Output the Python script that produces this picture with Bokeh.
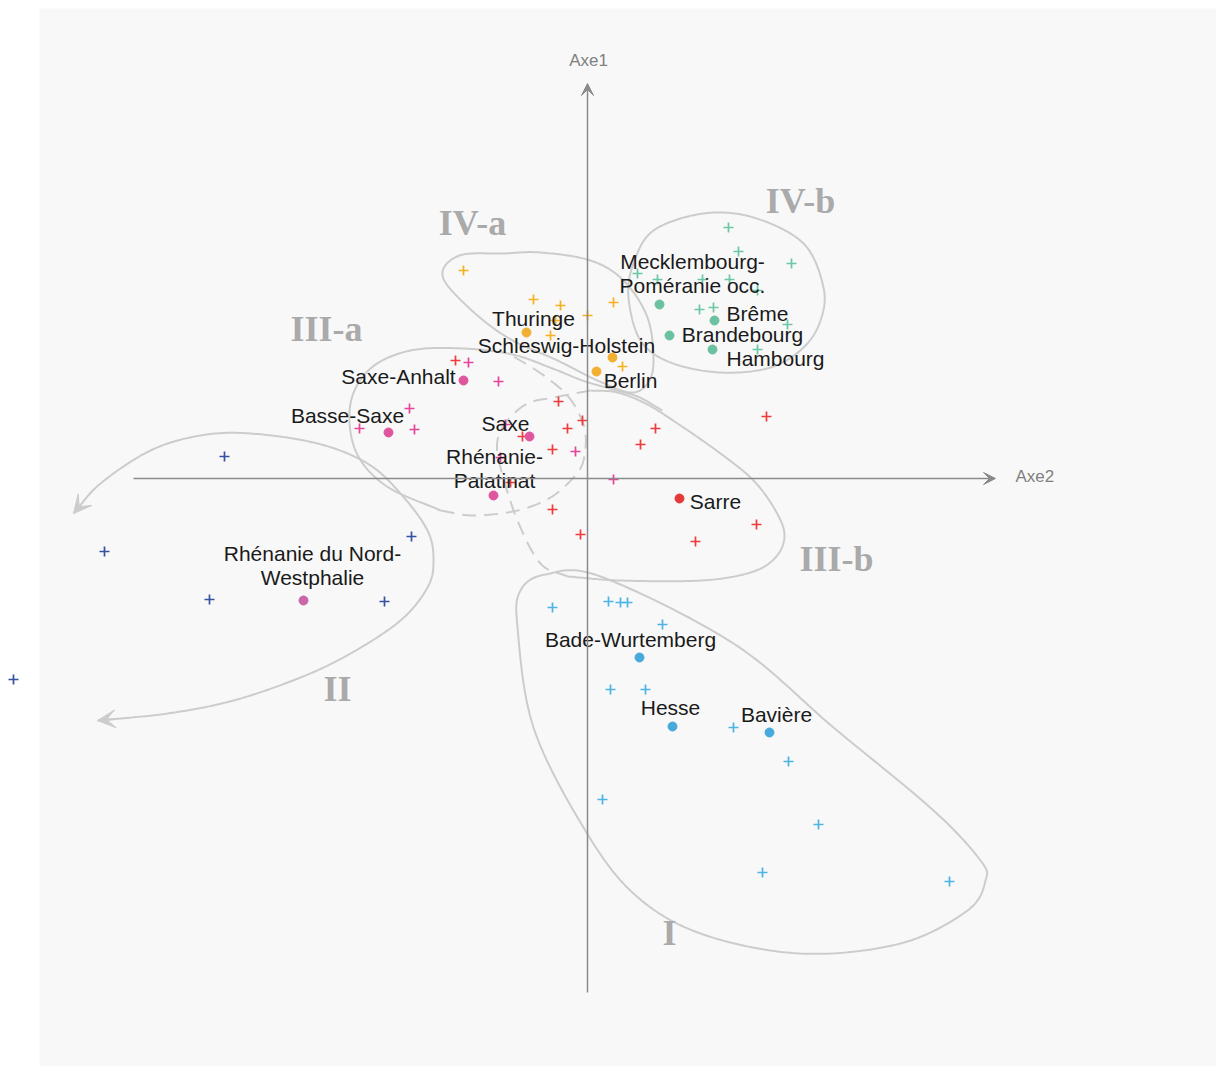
import numpy as np
from bokeh.plotting import figure
from bokeh.models import Range1d, BoxAnnotation, Arrow, VeeHead, ColumnDataSource, Label
from bokeh.core.properties import value
from bokeh.embed import file_html
from bokeh.resources import INLINE

# ---------------- data (axis units) ----------------
# group IV-a (orange)
iva_plus_x = [-1.24, -0.54, -0.27, 0.00, 0.26, -0.37, 0.35, -0.32]
iva_plus_y = [2.08, 1.79, 1.73, 1.63, 1.76, 1.43, 1.12, 1.58]
iva_names = ["Thuringe", "Schleswig-Holstein", "Berlin"]
iva_x = [-0.61, 0.25, 0.09]
iva_y = [1.46, 1.21, 1.07]

# group IV-b (teal)
ivb_plus_x = [1.41, 1.51, 2.04, 0.50, 0.70, 1.15, 1.42, 1.70, 1.12, 1.26, 2.00, 1.70]
ivb_plus_y = [2.51, 2.27, 2.15, 2.05, 1.99, 1.99, 1.99, 1.88, 1.69, 1.71, 1.54, 1.29]
ivb_names = ["Mecklembourg-\nPoméranie occ.", "Brême", "Brandebourg", "Hambourg"]
ivb_x = [0.72, 1.27, 0.82, 1.25]
ivb_y = [1.74, 1.58, 1.43, 1.29]

# group III-b (red)
iiib_plus_x = [-1.32, -0.29, -0.05, -0.20, -0.65, -0.35, -0.77, -0.35, -0.07, 1.79, 0.68, 0.53, 1.69, 1.08]
iiib_plus_y = [1.18, 0.77, 0.58, 0.50, 0.42, 0.29, -0.04, -0.31, -0.56, 0.62, 0.50, 0.34, -0.46, -0.63]
iiib_names = ["Sarre"]
iiib_x = [0.92]
iiib_y = [-0.20]

# group III-a (magenta)
iiia_plus_x = [-1.19, -0.89, -1.78, -2.28, -1.73, -0.12, 0.26, -0.82, -0.87]
iiia_plus_y = [1.16, 0.97, 0.70, 0.50, 0.49, 0.27, -0.01, 0.54, 0.21]
iiia_names = ["Saxe-Anhalt", "Basse-Saxe", "Saxe", "Rhénanie-\nPalatinat"]
iiia_x = [-1.24, -1.99, -0.58, -0.94]
iiia_y = [0.98, 0.46, 0.42, -0.17]

# group II (dark blue)
ii_plus_x = [-3.63, -4.83, -1.76, -3.78, -2.03, -5.74]
ii_plus_y = [0.22, -0.73, -0.58, -1.21, -1.23, -2.01]
ii_names = ["Rhénanie du Nord-\nWestphalie"]
ii_x = [-2.84]
ii_y = [-1.22]

# group I (light blue)
i_plus_x = [-0.35, 0.21, 0.33, 0.40, 0.75, 0.23, 0.58, 1.46, 2.01, 0.15, 2.31, 1.75, 3.62]
i_plus_y = [-1.29, -1.23, -1.24, -1.24, -1.46, -2.11, -2.11, -2.49, -2.83, -3.21, -3.46, -3.94, -4.03]
i_names = ["Bade-Wurtemberg", "Hesse", "Bavière"]
i_x = [0.52, 0.85, 1.82]
i_y = [-1.79, -2.48, -2.54]

group_labels = ["IV-a", "IV-b", "III-a", "III-b", "II", "I"]
group_lx = [-1.15, 2.13, -2.61, 2.49, -2.50, 0.82]
group_ly = [2.56, 2.78, 1.50, -0.80, -2.10, -4.54]

# outlines of the groups (control points)
curve_I_x = [-0.67, -0.42, 0.13, 1.46, 2.46, 3.46, 3.93, 3.98, 3.80, 3.13, 2.13, 1.13, 0.46, -0.04, -0.54, -0.70]
curve_I_y = [-1.12, -0.96, -0.98, -1.65, -2.49, -3.32, -3.82, -4.02, -4.32, -4.65, -4.75, -4.55, -4.15, -3.49, -2.49, -1.49]
curve_IVb_x = [0.41, 0.46, 0.66, 1.16, 1.66, 2.16, 2.36, 2.33, 2.16, 1.83, 1.33, 0.83, 0.53]
curve_IVb_y = [1.81, 2.15, 2.48, 2.65, 2.61, 2.35, 1.91, 1.58, 1.31, 1.11, 1.06, 1.16, 1.38]
curve_IVa_x = [-1.45, -1.28, -0.84, -0.47, 0.03, 0.36, 0.60, 0.66, 0.60, 0.43, 0.10, -0.30, -0.80, -1.20]
curve_IVa_y = [2.03, 2.23, 2.25, 2.26, 2.18, 1.98, 1.61, 1.18, 0.95, 0.86, 0.98, 1.18, 1.41, 1.72]
curve_IIIa_solid_x = [0.75, 0.50, 0.22, -0.05, -0.35, -0.75, -1.25, -1.77, -2.17, -2.37, -2.32, -2.02, -1.47]
curve_IIIa_solid_y = [0.68, 0.82, 0.90, 0.98, 1.10, 1.24, 1.30, 1.28, 1.10, 0.75, 0.28, -0.07, -0.32]
curve_IIIa_dash_x = [-1.47, -1.14, -0.70, -0.37, -0.14, -0.04, -0.02, -0.10, -0.22, -0.37, -0.54, -0.74]
curve_IIIa_dash_y = [-0.32, -0.37, -0.32, -0.19, 0.01, 0.18, 0.45, 0.68, 0.85, 0.98, 1.10, 1.22]
curve_IIIb_dash_x = [0.03, -0.34, -0.60, -0.80, -0.90, -0.87, -0.70, -0.47, -0.20]
curve_IIIb_dash_y = [0.88, 0.81, 0.75, 0.58, 0.38, 0.11, -0.42, -0.85, -0.98]
curve_IIIb_solid_x = [-0.20, 0.33, 1.13, 1.63, 1.88, 1.97, 1.88, 1.66, 1.33, 0.93, 0.60, 0.30, 0.03]
curve_IIIb_solid_y = [-0.98, -1.02, -1.02, -0.94, -0.79, -0.57, -0.32, -0.02, 0.25, 0.53, 0.74, 0.86, 0.88]
curve_II_x = [-5.14, -4.87, -4.37, -3.87, -3.37, -2.70, -2.20, -1.87, -1.60, -1.54, -1.60, -1.87, -2.37, -2.87, -3.54, -4.20, -4.90]
curve_II_y = [-0.35, -0.05, 0.28, 0.43, 0.45, 0.35, 0.15, -0.15, -0.52, -0.82, -1.09, -1.42, -1.75, -1.99, -2.22, -2.35, -2.42]

# ---------------- helpers ----------------
def catmull(xs, ys, closed=False, n=24):
    P = np.column_stack([xs, ys]).astype(float)
    if closed:
        P = np.vstack([P[-1], P, P[0], P[1]])
    else:
        P = np.vstack([2 * P[0] - P[1], P, 2 * P[-1] - P[-2]])
    out = []
    for i in range(1, len(P) - 2):
        p0, p1, p2, p3 = P[i - 1], P[i], P[i + 1], P[i + 2]
        t = np.linspace(0, 1, n, endpoint=False)[:, None]
        seg = 0.5 * ((2 * p1) + (-p0 + p2) * t + (2 * p0 - 5 * p1 + 4 * p2 - p3) * t ** 2
                     + (-p0 + 3 * p1 - 3 * p2 + p3) * t ** 3)
        out.append(seg)
    out.append(P[-2][None, :])
    A = np.vstack(out)
    return A[:, 0], A[:, 1]

# ---------------- figure ----------------
p = figure(width=1216, height=1066, x_range=Range1d(-5.87, 6.29), y_range=Range1d(-5.88, 4.78),
           output_backend="svg", toolbar_location=None, min_border=0,
           x_axis_type=None, y_axis_type=None)
p.grid.visible = False
p.outline_line_color = None
p.background_fill_color = "white"
p.border_fill_color = "white"

p.add_layout(BoxAnnotation(left=-5.48, right=6.29, top=4.70, bottom=-5.88,
                           fill_color="#f8f8f8", fill_alpha=1, line_color=None, level="underlay"))

CURVE = "#cccccc"
for cx, cy in [(curve_I_x, curve_I_y), (curve_IVb_x, curve_IVb_y), (curve_IVa_x, curve_IVa_y)]:
    sx, sy = catmull(cx, cy, closed=True)
    p.line(sx, sy, line_color=CURVE, line_width=2)
for cx, cy in [(curve_IIIa_solid_x, curve_IIIa_solid_y), (curve_IIIb_solid_x, curve_IIIb_solid_y)]:
    sx, sy = catmull(cx, cy)
    p.line(sx, sy, line_color=CURVE, line_width=2)
for cx, cy in [(curve_IIIa_dash_x, curve_IIIa_dash_y), (curve_IIIb_dash_x, curve_IIIb_dash_y)]:
    sx, sy = catmull(cx, cy)
    p.line(sx, sy, line_color=CURVE, line_width=2, line_dash="14 8")
sx, sy = catmull(curve_II_x, curve_II_y)
p.line(sx, sy, line_color=CURVE, line_width=2)
p.add_layout(Arrow(end=VeeHead(size=18, fill_color=CURVE, line_color=CURVE),
                   x_start=sx[6], y_start=sy[6], x_end=sx[0], y_end=sy[0],
                   line_color=CURVE, line_width=2))
p.add_layout(Arrow(end=VeeHead(size=18, fill_color=CURVE, line_color=CURVE),
                   x_start=sx[-7], y_start=sy[-7], x_end=sx[-1], y_end=sy[-1],
                   line_color=CURVE, line_width=2))

# axes arrows
AX = "#8a8a8a"
p.add_layout(Arrow(end=VeeHead(size=12, fill_color=AX, line_color=AX), x_start=-4.54, y_start=0,
                   x_end=4.08, y_end=0, line_color=AX, line_width=1.5))
p.add_layout(Arrow(end=VeeHead(size=12, fill_color=AX, line_color=AX), x_start=0, y_start=-5.14,
                   x_end=0, y_end=3.95, line_color=AX, line_width=1.5))
p.add_layout(Label(x=0.01, y=4.18, text="Axe1", text_align="center", text_baseline="middle",
                   text_color="#808080", text_font="Liberation Sans", text_font_size="17px"))
p.add_layout(Label(x=4.28, y=0.02, text="Axe2", text_align="left", text_baseline="middle",
                   text_color="#808080", text_font="Liberation Sans", text_font_size="17px"))

# group labels
p.text(x=group_lx, y=group_ly, text=group_labels, text_align="center", text_baseline="middle",
       text_color="#aaaaaa", text_font=value("Liberation Serif"), text_font_style="bold",
       text_font_size="36px")

groups = [
    (iva_plus_x, iva_plus_y, iva_x, iva_y, iva_names, "#f5b120", "#f2b033"),
    (ivb_plus_x, ivb_plus_y, ivb_x, ivb_y, ivb_names, "#6cc7a5", "#6cc2a0"),
    (iiib_plus_x, iiib_plus_y, iiib_x, iiib_y, iiib_names, "#ee3b3b", "#e63a3a"),
    (iiia_plus_x, iiia_plus_y, iiia_x, iiia_y, iiia_names, "#e4449a", "#e0569e"),
    (ii_plus_x, ii_plus_y, ii_x, ii_y, ii_names, "#3552a2", "#cc66aa"),
    (i_plus_x, i_plus_y, i_x, i_y, i_names, "#4cb4e4", "#48aadc"),
]

# label placement (screen px offsets from the dot)
label_offsets = {
    "Thuringe": (7, -14), "Schleswig-Holstein": (-46, -12), "Berlin": (34, 9),
    "Mecklembourg-\nPoméranie occ.": (33, -43), "Brême": (43, -7), "Brandebourg": (73, -1),
    "Hambourg": (63, 9), "Sarre": (36, 3), "Saxe-Anhalt": (-65, -4), "Basse-Saxe": (-41, -17),
    "Saxe": (-24, -13), "Rhénanie-\nPalatinat": (1, -39), "Rhénanie du Nord-\nWestphalie": (9, -47),
    "Bade-Wurtemberg": (-9, -18), "Hesse": (-2, -19), "Bavière": (7, -18),
}
LINE_H = 24

tx, ty, tt, tdx, tdy = [], [], [], [], []
for px_, py_, cx_, cy_, names, pc, cc in groups:
    p.scatter(px_, py_, marker="cross", size=10, line_width=1.7, line_color=pc)
    p.scatter(cx_, cy_, marker="circle", size=9, fill_color=cc, line_color=cc)
    for x_, y_, name in zip(cx_, cy_, names):
        dx, dy = label_offsets[name]
        for k, line in enumerate(name.split("\n")):
            tx.append(x_); ty.append(y_); tt.append(line)
            tdx.append(dx); tdy.append(dy + k * LINE_H)

src = ColumnDataSource(dict(x=tx, y=ty, text=tt, dx=tdx, dy=tdy))
p.text(x="x", y="y", text="text", x_offset="dx", y_offset="dy", source=src,
       text_align="center", text_baseline="middle", text_color="#1a1a1a",
       text_font=value("Liberation Sans"), text_font_size="21px")

open("out.html", "w").write(file_html(p, INLINE))
